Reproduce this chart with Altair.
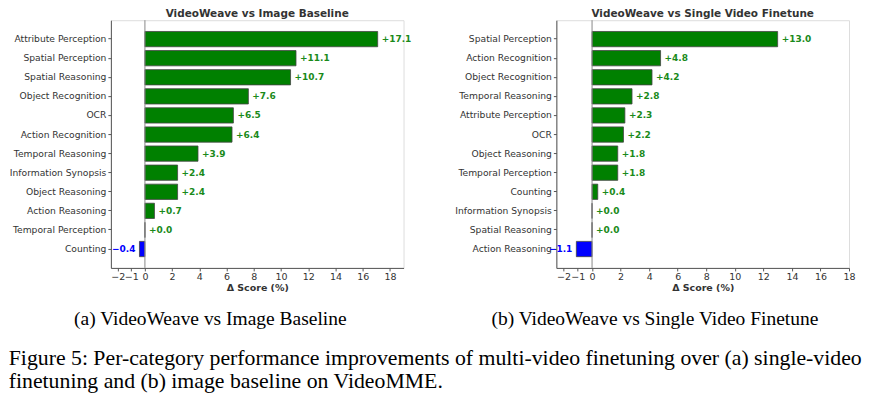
import altair as alt
import pandas as pd

cats_a = ["Attribute Perception", "Spatial Perception", "Spatial Reasoning", "Object Recognition",
          "OCR", "Action Recognition", "Temporal Reasoning", "Information Synopsis",
          "Object Reasoning", "Action Reasoning", "Temporal Perception", "Counting"]
vals_a = [17.1, 11.1, 10.7, 7.6, 6.5, 6.4, 3.9, 2.4, 2.4, 0.7, 0.0, -0.4]

cats_b = ["Spatial Perception", "Action Recognition", "Object Recognition", "Temporal Reasoning",
          "Attribute Perception", "OCR", "Object Reasoning", "Temporal Perception",
          "Counting", "Information Synopsis", "Spatial Reasoning", "Action Reasoning"]
vals_b = [13.0, 4.8, 4.2, 2.8, 2.3, 2.2, 1.8, 1.8, 0.4, 0.0, 0.0, -1.1]

tick_vals = [-2, -1, 0, 2, 4, 6, 8, 10, 12, 14, 16, 18]

title_a = "VideoWeave vs Image Baseline"
title_b = "VideoWeave vs Single Video Finetune"
cap_a = "(a) VideoWeave vs Image Baseline"
cap_b = "(b) VideoWeave vs Single Video Finetune"
fig_caption = ["Figure 5: Per-category performance improvements of multi-video finetuning over (a) single-video",
               "finetuning and (b) image baseline on VideoMME."]

FONT = "DejaVu Sans"
AX = "#555555"
TXT = "#333333"


def panel(cats, vals, xmax, title, w, h):
    df = pd.DataFrame({"cat": cats, "v": vals})
    xs = alt.Scale(domain=[-2.5, xmax], nice=False, zero=False)
    ys = alt.Scale(paddingInner=0.2, paddingOuter=0.59)
    xaxis = alt.Axis(values=tick_vals, title="Δ Score (%)", titleFont=FONT,
                     titleFontSize=9.5, titleFontWeight="bold", titleColor=TXT,
                     titlePadding=1, labelFont=FONT, labelFontSize=9.5,
                     labelColor=TXT, domainColor=AX, tickColor=AX, tickSize=3,
                     labelPadding=1, grid=False, labelFlush=False,
                     labelOverlap=False)
    y = alt.Y("cat:N", sort=cats, scale=ys,
              axis=alt.Axis(title=None, labelFont=FONT, labelFontSize=9.2, labelColor=TXT,
                            domainColor=AX, tickColor=AX, tickSize=3, labelPadding=2,
                            grid=False))
    x = alt.X("v:Q", scale=xs, axis=xaxis)
    base = alt.Chart(df)
    bars = base.mark_bar(stroke="#444444", strokeWidth=0.8).encode(
        y=y, x=x, x2=alt.datum(0),
        color=alt.condition("datum.v < 0", alt.value("#0000ff"), alt.value("#008000")),
    )
    zero = alt.Chart(pd.DataFrame({"z": [0]})).mark_rule(color="#888888", strokeWidth=1).encode(
        x=alt.X("z:Q", scale=xs, axis=xaxis, title="Δ Score (%)"))
    lab = base.transform_calculate(lbl="format(datum.v, '+.1f')")
    pos = lab.transform_filter("datum.v >= 0").mark_text(
        align="left", dx=4, font=FONT, fontSize=9, fontWeight="bold", color="#1a8a1a",
        baseline="middle").encode(y=y, x=x, text="lbl:N")
    neg = lab.transform_filter("datum.v < 0").mark_text(
        align="right", dx=-4, font=FONT, fontSize=9, fontWeight="bold", color="#0000ff",
        baseline="middle").encode(y=y, x=x, text="lbl:N")
    ch = alt.layer(bars, zero, pos, neg).properties(
        width=w, height=h,
        title=alt.TitleParams(title, font=FONT, fontSize=10.5, fontWeight="bold", color=TXT,
                              offset=0))
    return ch


pa = panel(cats_a, vals_a, 19, title_a, 293, 248)
pb = panel(cats_b, vals_b, 18, title_b, 293, 248)

cap_style = dict(orient="bottom", anchor="middle", font="Liberation Serif", fontSize=19.5,
                 fontWeight="normal", color="black", offset=18)
ca = alt.vconcat(pa, title=alt.TitleParams(cap_a, **cap_style))
cb = alt.vconcat(pb, title=alt.TitleParams(cap_b, **cap_style))

top = alt.hconcat(ca, cb, spacing=41)
chart = alt.vconcat(top, title=alt.TitleParams(fig_caption, orient="bottom", anchor="start",
                                               font="Liberation Serif", fontSize=21.8,
                                               fontWeight="normal", color="black",
                                               offset=19, lineHeight=23)
                    ).configure_view(stroke=None).configure(
                        padding={"left": 0, "top": 0, "right": 0, "bottom": 0})

chart.save("out.html", embed_options={"renderer": "svg", "actions": False})
